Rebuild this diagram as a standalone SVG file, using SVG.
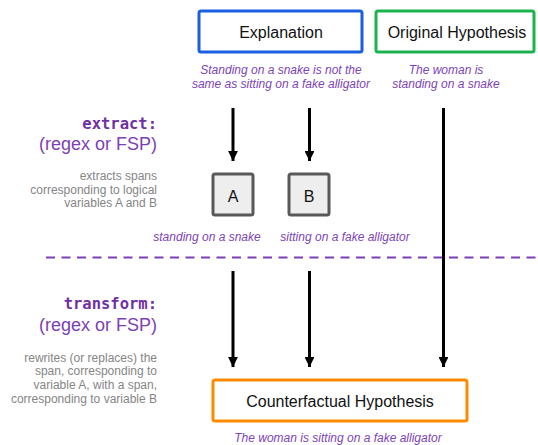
<svg xmlns="http://www.w3.org/2000/svg" width="538" height="445" viewBox="0 0 538 445">
<defs>
<marker id="ah" viewBox="0 0 10 10" refX="10" refY="5" markerWidth="3.3" markerHeight="3.3" orient="auto" markerUnits="strokeWidth">
<path d="M0,0 L10,5 L0,10 Z" fill="#000"/>
</marker>
<style>
.box{fill:#fff;stroke-width:3}
.var{fill:#eeeeee;stroke:#595959;stroke-width:3}
.lbl{font-family:"Liberation Sans",Arial,sans-serif;font-size:16px;fill:#111;text-anchor:middle}
.it{font-family:"Liberation Sans",Arial,sans-serif;font-size:12px;font-style:italic;fill:#7c44b8;text-anchor:middle}
.mono{font-family:"DejaVu Sans Mono",monospace;font-weight:bold;font-size:15.5px;fill:#6f2fa6;text-anchor:end}
.sub{font-family:"Liberation Sans",Arial,sans-serif;font-size:18px;fill:#7c3fb5;text-anchor:end}
.gray{font-family:"Liberation Sans",Arial,sans-serif;font-size:12px;fill:#858585;text-anchor:end}
.arr{stroke:#000;stroke-width:3;fill:none;marker-end:url(#ah)}
</style>
</defs>
<rect width="538" height="445" fill="#fff"/>

<g id="divider">
<line x1="46" y1="257.5" x2="538" y2="257.5" stroke="#7c3fb5" stroke-width="2.2" stroke-dasharray="9 6.5"/>
</g>

<g id="connectors">
<line class="arr" x1="233" y1="108" x2="233" y2="161"/>
<line class="arr" x1="309.5" y1="108" x2="309.5" y2="161"/>
<line class="arr" x1="443.5" y1="108" x2="443.5" y2="367"/>
<line class="arr" x1="233" y1="271" x2="233" y2="367"/>
<line class="arr" x1="309.5" y1="271" x2="309.5" y2="367"/>
</g>

<g id="explanation">
<rect class="box" x="199" y="11" width="163" height="41" rx="2" stroke="#1a5fe0"/>
<text class="lbl" x="281" y="38">Explanation</text>
<text class="it" x="281" y="74">Standing on a snake is not the</text>
<text class="it" x="281" y="87.5">same as sitting on a fake alligator</text>
</g>

<g id="original-hypothesis">
<rect class="box" x="376" y="11" width="158" height="41" rx="2" stroke="#1db250"/>
<text class="lbl" x="457" y="38">Original Hypothesis</text>
<text class="it" x="446" y="74">The woman is</text>
<text class="it" x="446" y="87.5">standing on a snake</text>
</g>

<g id="extract-label">
<text class="mono" x="157" y="128.5">extract:</text>
<text class="sub" x="157" y="150">(regex or FSP)</text>
<text class="gray" x="157" y="180">extracts spans</text>
<text class="gray" x="157" y="193.7">corresponding to logical</text>
<text class="gray" x="157" y="207.4">variables A and B</text>
</g>

<g id="var-a">
<rect class="var" x="213" y="174" width="40" height="41" rx="2"/>
<text class="lbl" x="233" y="202">A</text>
<text class="it" x="207" y="241">standing on a snake</text>
</g>

<g id="var-b">
<rect class="var" x="289" y="174" width="40" height="41" rx="2"/>
<text class="lbl" x="309" y="202">B</text>
<text class="it" x="345" y="241">sitting on a fake alligator</text>
</g>

<g id="transform-label">
<text class="mono" x="157" y="309">transform:</text>
<text class="sub" x="157" y="331">(regex or FSP)</text>
<text class="gray" x="157" y="361.5">rewrites (or replaces) the</text>
<text class="gray" x="157" y="375.3">span, corresponding to</text>
<text class="gray" x="157" y="389.1">variable A, with a span,</text>
<text class="gray" x="157" y="402.9">corresponding to variable B</text>
</g>

<g id="counterfactual">
<rect class="box" x="213" y="380" width="254" height="41" rx="2" stroke="#ff8a00"/>
<text class="lbl" x="340" y="406.5">Counterfactual Hypothesis</text>
<text class="it" x="338" y="441.5">The woman is sitting on a fake alligator</text>
</g>
</svg>
